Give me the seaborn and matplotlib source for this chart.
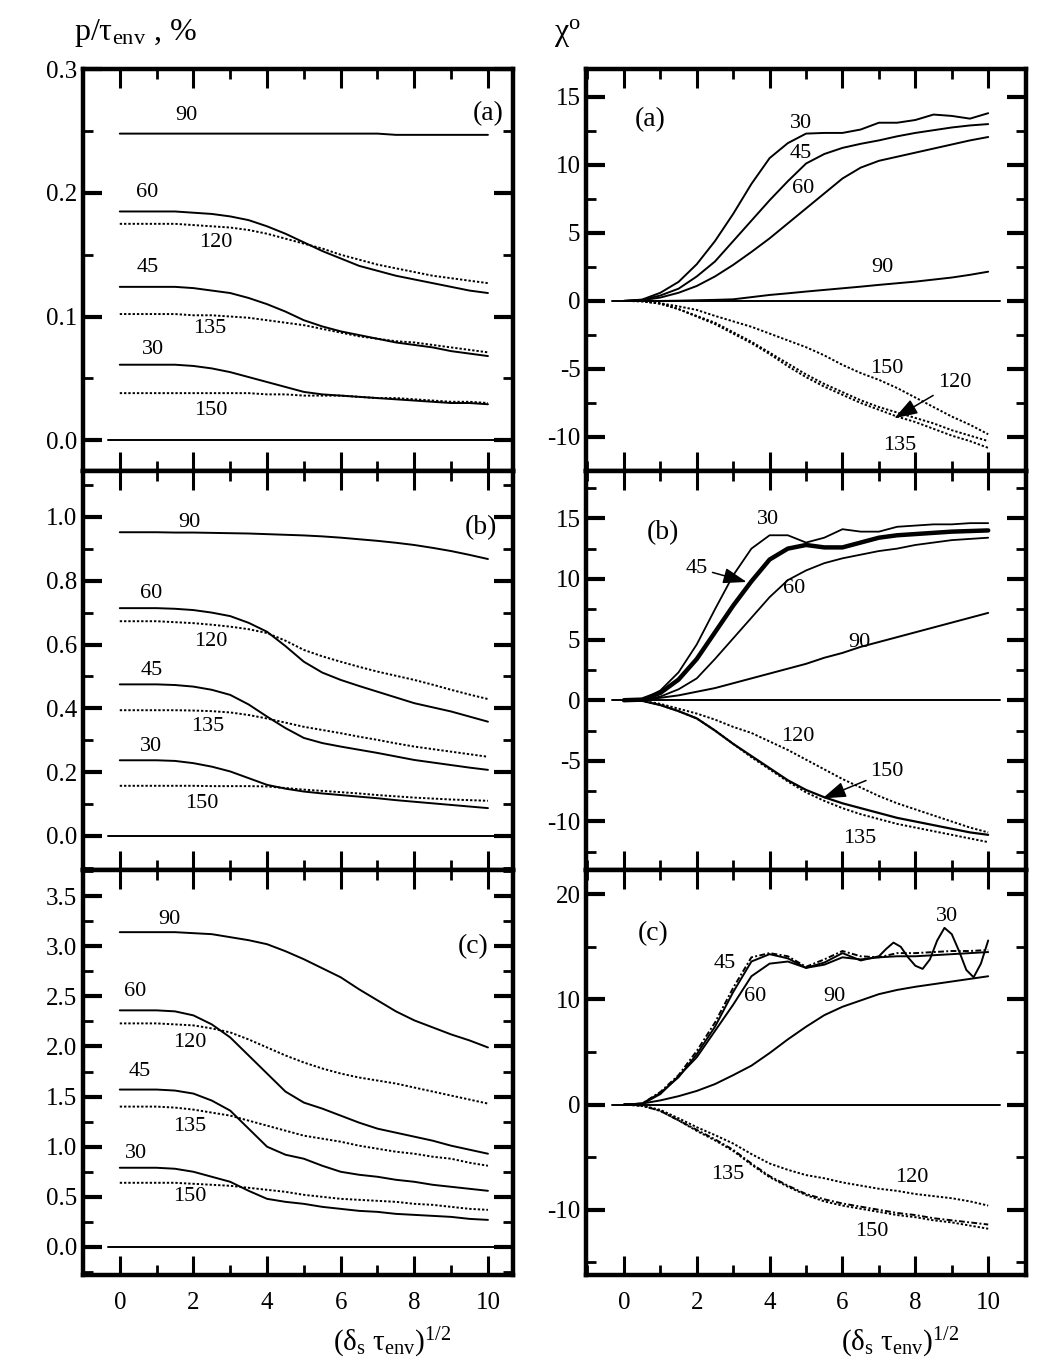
import matplotlib
matplotlib.use("Agg")
import matplotlib.pyplot as plt
from matplotlib.ticker import MultipleLocator
import seaborn as sns

# common abscissa, (delta_s tau_env)^1/2
X = [0, 0.5, 1, 1.5, 2, 2.5, 3, 3.5, 4, 4.5, 5, 5.5, 6, 6.5, 7, 7.5, 8, 8.5, 9, 9.5, 10]
X30C = [0, 0.5, 1, 1.5, 2, 2.5, 3, 3.5, 4, 4.5, 5, 5.5, 6, 6.5, 7, 7.2, 7.4, 7.6, 7.8,
        8.0, 8.2, 8.4, 8.6, 8.8, 9.0, 9.2, 9.4, 9.6, 9.8, 10]

# ---- left column: p / tau_env, %
pa_90 = [.248, .248, .248, .248, .248, .248, .248, .248, .248, .248, .248, .248, .248,
         .248, .248, .247, .247, .247, .247, .247, .247]
pa_60 = [.185, .185, .185, .185, .184, .183, .181, .178, .173, .167, .160, .153, .147,
         .141, .137, .133, .130, .127, .124, .121, .119]
pa_120 = [.175, .175, .175, .175, .174, .173, .172, .170, .167, .163, .159, .155, .150,
          .146, .142, .139, .136, .133, .131, .129, .127]
pa_45 = [.124, .124, .124, .124, .123, .121, .119, .115, .110, .104, .097, .092, .088,
         .085, .082, .079, .077, .075, .072, .070, .068]
pa_135 = [.102, .102, .102, .102, .101, .101, .100, .099, .097, .095, .093, .090, .087,
          .084, .082, .080, .079, .077, .075, .073, .071]
pa_30 = [.061, .061, .061, .061, .060, .058, .055, .051, .047, .043, .039, .037, .036,
         .035, .034, .033, .032, .031, .030, .030, .029]
pa_150 = [.038, .038, .038, .038, .038, .038, .038, .038, .037, .037, .036, .036, .036,
          .035, .034, .034, .033, .032, .031, .031, .030]

pb_90 = [.952, .952, .952, .951, .951, .950, .949, .948, .946, .944, .942, .939, .935,
         .930, .925, .919, .912, .903, .893, .881, .868]
pb_60 = [.714, .714, .714, .712, .708, .700, .689, .668, .640, .595, .546, .512, .489,
         .470, .452, .434, .416, .403, .390, .374, .358]
pb_120 = [.673, .673, .673, .670, .667, .662, .656, .648, .636, .612, .583, .563, .546,
          .530, .515, .502, .489, .474, .458, .443, .429]
pb_45 = [.475, .475, .475, .473, .468, .458, .442, .412, .374, .338, .307, .291, .280,
         .270, .260, .249, .238, .230, .222, .214, .207]
pb_135 = [.394, .394, .394, .394, .393, .391, .387, .379, .368, .355, .342, .332, .322,
          .311, .301, .290, .280, .272, .264, .256, .248]
pb_30 = [.237, .237, .237, .235, .228, .217, .202, .181, .160, .148, .139, .133, .128,
         .123, .118, .112, .107, .102, .097, .092, .087]
pb_150 = [.157, .157, .157, .157, .157, .156, .156, .156, .155, .150, .145, .141, .137,
          .133, .128, .124, .120, .117, .114, .112, .110]

pc_90 = [3.14, 3.14, 3.14, 3.14, 3.13, 3.12, 3.09, 3.06, 3.02, 2.95, 2.87, 2.78, 2.69,
         2.57, 2.46, 2.35, 2.26, 2.19, 2.12, 2.06, 1.99]
pc_60 = [2.36, 2.36, 2.36, 2.35, 2.31, 2.22, 2.09, 1.91, 1.73, 1.55, 1.44, 1.38, 1.31,
         1.24, 1.18, 1.14, 1.10, 1.06, 1.01, 0.97, 0.93]
pc_120 = [2.23, 2.23, 2.23, 2.22, 2.21, 2.18, 2.14, 2.07, 1.99, 1.91, 1.84, 1.78, 1.73,
          1.69, 1.66, 1.63, 1.59, 1.55, 1.51, 1.47, 1.43]
pc_45 = [1.57, 1.57, 1.57, 1.56, 1.53, 1.46, 1.36, 1.18, 1.00, 0.92, 0.88, 0.81, 0.75,
         0.72, 0.70, 0.67, 0.65, 0.62, 0.60, 0.58, 0.56]
pc_135 = [1.40, 1.40, 1.40, 1.39, 1.37, 1.34, 1.31, 1.26, 1.21, 1.16, 1.11, 1.08, 1.05,
          1.01, 0.98, 0.95, 0.93, 0.90, 0.88, 0.84, 0.81]
pc_30 = [0.79, 0.79, 0.79, 0.78, 0.75, 0.70, 0.65, 0.56, 0.48, 0.45, 0.43, 0.40, 0.38,
         0.36, 0.35, 0.33, 0.32, 0.31, 0.30, 0.28, 0.27]
pc_150 = [0.64, 0.64, 0.64, 0.64, 0.63, 0.62, 0.61, 0.59, 0.57, 0.55, 0.52, 0.50, 0.48,
          0.47, 0.46, 0.45, 0.43, 0.42, 0.40, 0.38, 0.37]

# ---- right column: chi, degrees
ca_30 = [0, 0.1, 0.6, 1.4, 2.7, 4.4, 6.4, 8.6, 10.5, 11.6, 12.3, 12.35, 12.35, 12.6,
         13.1, 13.1, 13.3, 13.7, 13.6, 13.4, 13.8]
ca_45 = [0, 0.08, 0.4, 0.9, 1.8, 2.9, 4.4, 5.9, 7.4, 8.8, 10.1, 10.8, 11.25, 11.55,
         11.8, 12.1, 12.35, 12.55, 12.75, 12.9, 13.0]
ca_60 = [0, 0.05, 0.25, 0.6, 1.1, 1.8, 2.65, 3.6, 4.6, 5.7, 6.8, 7.9, 9.0, 9.8, 10.3,
         10.6, 10.9, 11.2, 11.5, 11.8, 12.05]
ca_90 = [0, 0, 0, 0.02, 0.05, 0.08, 0.12, 0.28, 0.44, 0.56, 0.69, 0.81, 0.93, 1.05,
         1.18, 1.30, 1.42, 1.57, 1.72, 1.92, 2.15]
ca_150 = [0, -0.02, -0.17, -0.4, -0.66, -1.1, -1.5, -1.9, -2.4, -2.9, -3.4, -4.0, -4.7,
          -5.3, -5.8, -6.4, -7.1, -7.8, -8.5, -9.1, -9.8]
ca_120 = [0, -0.02, -0.2, -0.6, -1.1, -1.6, -2.3, -3.0, -3.8, -4.6, -5.4, -6.1, -6.7,
          -7.3, -7.8, -8.2, -8.6, -9.0, -9.5, -9.9, -10.3]
ca_135 = [0, -0.02, -0.2, -0.6, -1.15, -1.7, -2.4, -3.1, -3.9, -4.8, -5.6, -6.3, -6.9,
          -7.5, -8.0, -8.5, -8.9, -9.4, -9.9, -10.3, -10.8]

cb_30 = [0, 0.05, 0.8, 2.3, 4.6, 7.5, 10.3, 12.5, 13.6, 13.6, 13.0, 13.4, 14.1, 13.9,
         13.9, 14.3, 14.4, 14.5, 14.5, 14.6, 14.6]
cb_45 = [0, 0.05, 0.6, 1.7, 3.4, 5.6, 7.8, 9.8, 11.6, 12.5, 12.8, 12.6, 12.6, 13.0,
         13.4, 13.6, 13.7, 13.8, 13.9, 13.95, 14.0]
cb_60 = [0, 0.03, 0.3, 0.9, 1.8, 3.4, 5.1, 6.8, 8.5, 9.9, 10.7, 11.3, 11.7, 12.0, 12.3,
         12.5, 12.8, 13.0, 13.2, 13.3, 13.4]
cb_90 = [0, 0.02, 0.2, 0.4, 0.7, 1.0, 1.4, 1.8, 2.2, 2.6, 3.0, 3.5, 3.9, 4.4, 4.8, 5.2,
         5.6, 6.0, 6.4, 6.8, 7.2]
cb_120 = [0, -0.05, -0.3, -0.7, -1.1, -1.6, -2.2, -2.7, -3.4, -4.1, -4.9, -5.7, -6.5,
          -7.2, -7.9, -8.5, -9.0, -9.5, -10.0, -10.5, -10.9]
cb_150 = [0, -0.05, -0.4, -0.9, -1.5, -2.5, -3.6, -4.6, -5.6, -6.6, -7.4, -8.0, -8.5,
          -8.9, -9.3, -9.7, -10.0, -10.3, -10.6, -10.9, -11.1]
cb_135 = [0, -0.05, -0.4, -0.9, -1.5, -2.5, -3.6, -4.7, -5.7, -6.7, -7.6, -8.3, -8.9,
          -9.4, -9.8, -10.2, -10.5, -10.8, -11.1, -11.4, -11.7]

cc_30 = [0, 0.1, 1.1, 2.6, 4.8, 7.4, 10.7, 13.6, 14.3, 13.9, 13.0, 13.5, 14.4, 13.7,
         14.1, 14.8, 15.4, 15.0, 14.0, 13.2, 12.9, 13.8, 15.6, 16.8, 16.2, 14.6, 12.8,
         12.1, 13.4, 15.6]
cc_45 = [0, 0.1, 1.2, 2.8, 5.1, 7.8, 11.1, 14.0, 14.4, 14.1, 13.1, 13.8, 14.6, 14.1,
         14.0, 14.4, 14.4, 14.5, 14.6, 14.6, 14.7]
cc_60 = [0, 0.05, 1.0, 2.7, 4.5, 7.0, 9.5, 12.2, 13.4, 13.6, 13.0, 13.3, 14.0, 13.8,
         14.0, 14.1, 14.1, 14.2, 14.3, 14.4, 14.5]
cc_90 = [0, 0.1, 0.4, 0.8, 1.3, 1.95, 2.8, 3.7, 4.9, 6.2, 7.4, 8.5, 9.3, 9.9, 10.5,
         10.9, 11.2, 11.45, 11.7, 11.95, 12.2]
cc_120 = [0, -0.1, -0.5, -1.3, -2.15, -2.9, -3.7, -4.7, -5.6, -6.2, -6.7, -7.0, -7.4,
          -7.7, -8.0, -8.2, -8.5, -8.7, -8.9, -9.2, -9.6]
cc_135 = [0, -0.1, -0.6, -1.5, -2.5, -3.4, -4.4, -5.7, -6.9, -7.8, -8.6, -9.2, -9.6,
          -9.9, -10.2, -10.5, -10.7, -11.0, -11.2, -11.5, -11.8]
cc_150 = [0, -0.1, -0.6, -1.5, -2.4, -3.3, -4.3, -5.6, -6.8, -7.7, -8.5, -9.0, -9.4,
          -9.7, -10.0, -10.3, -10.5, -10.8, -11.0, -11.2, -11.4]

ZERO_SPAN = (-0.33, 10.33)

sns.set_theme(style="ticks")
plt.rcParams["font.family"] = ["Liberation Serif", "DejaVu Serif"]
plt.rcParams["mathtext.fontset"] = "custom"
plt.rcParams["mathtext.rm"] = "Liberation Serif"
plt.rcParams["mathtext.it"] = "Liberation Serif:italic"
plt.rcParams["axes.unicode_minus"] = False
for key in ["text.color", "axes.labelcolor", "xtick.color", "ytick.color", "axes.edgecolor"]:
    plt.rcParams[key] = "black"

SOLID = "-"
DOT = (0, (1.2, 1.0))
DASHDOT = (0, (3.0, 1.2, 1.0, 1.2))

LEFT = (0.0787, 0.408)
RIGHT = (0.556, 0.4175)
ROWS = [(0.6552, 0.9495), (0.3631, 0.6552), (0.0666, 0.3631)]

panels = [
    dict(col=LEFT, row=0, xlim=(-1.0, 10.68), ylim=(-0.025, 0.3003), ymaj=0.1, ymin=0.05,
         curves=[(X, pa_90, SOLID, 1.4), (X, pa_60, SOLID, 1.4), (X, pa_120, DOT, 1.4),
                 (X, pa_45, SOLID, 1.4), (X, pa_135, DOT, 1.4), (X, pa_30, SOLID, 1.4),
                 (X, pa_150, DOT, 1.4)],
         labels=[("90", 1.8, 0.263), ("60", 0.73, 0.2), ("120", 2.6, 0.16), ("45", 0.75, 0.14),
                 ("135", 2.45, 0.0905), ("30", 0.9, 0.073), ("150", 2.47, 0.024)],
         tag=("(a)", 10.0, 0.264), arrows=[]),
    dict(col=LEFT, row=1, xlim=(-1.0, 10.68), ylim=(-0.107, 1.144), ymaj=0.2, ymin=0.1,
         curves=[(X, pb_90, SOLID, 1.4), (X, pb_60, SOLID, 1.4), (X, pb_120, DOT, 1.4),
                 (X, pb_45, SOLID, 1.4), (X, pb_135, DOT, 1.4), (X, pb_30, SOLID, 1.4),
                 (X, pb_150, DOT, 1.4)],
         labels=[("90", 1.9, 0.984), ("60", 0.84, 0.76), ("120", 2.47, 0.608),
                 ("45", 0.86, 0.517), ("135", 2.4, 0.343), ("30", 0.84, 0.279),
                 ("150", 2.22, 0.103)],
         tag=("(b)", 9.8, 0.966), arrows=[]),
    dict(col=LEFT, row=2, xlim=(-1.0, 10.68), ylim=(-0.28, 3.76), ymaj=0.5, ymin=0.25,
         curves=[(X, pc_90, SOLID, 1.4), (X, pc_60, SOLID, 1.4), (X, pc_120, DOT, 1.4),
                 (X, pc_45, SOLID, 1.4), (X, pc_135, DOT, 1.4), (X, pc_30, SOLID, 1.4),
                 (X, pc_150, DOT, 1.4)],
         labels=[("90", 1.36, 3.27), ("60", 0.43, 2.55), ("120", 1.9, 2.04), ("45", 0.54, 1.75),
                 ("135", 1.9, 1.2), ("30", 0.43, 0.93), ("150", 1.9, 0.5)],
         tag=("(c)", 9.6, 3.0), arrows=[]),
    dict(col=RIGHT, row=0, xlim=(-1.04, 11.04), ylim=(-12.5, 17.05), ymaj=5, ymin=2.5,
         curves=[(X, ca_30, SOLID, 1.4), (X, ca_45, SOLID, 1.4), (X, ca_60, SOLID, 1.4),
                 (X, ca_90, SOLID, 1.4), (X, ca_150, DOT, 1.4), (X, ca_120, DOT, 1.4),
                 (X, ca_135, DOT, 1.4)],
         labels=[("30", 4.86, 13.06), ("45", 4.85, 10.86), ("60", 4.93, 8.28),
                 ("90", 7.1, 2.43), ("150", 7.23, -4.93), ("135", 7.56, -10.6)],
         tag=("(a)", 0.71, 13.3),
         arrows=[("120", 9.07, -6.03, 7.42, -8.63)]),
    dict(col=RIGHT, row=1, xlim=(-1.04, 11.04), ylim=(-14.0, 18.9), ymaj=5, ymin=2.5,
         curves=[(X, cb_30, SOLID, 1.3), (X, cb_45, SOLID, 3.2), (X, cb_60, SOLID, 1.3),
                 (X, cb_90, SOLID, 1.4), (X, cb_120, DOT, 1.4), (X, cb_150, SOLID, 1.6),
                 (X, cb_135, DOT, 1.4)],
         labels=[("30", 3.95, 14.9), ("60", 4.66, 9.2), ("90", 6.47, 4.8),
                 ("120", 4.77, -3.0), ("135", 6.47, -11.4)],
         tag=("(b)", 1.07, 13.8),
         arrows=[("45", 2.0, 10.9, 3.37, 9.75), ("150", 7.23, -5.9, 5.45, -8.1)]),
    dict(col=RIGHT, row=2, xlim=(-1.04, 11.04), ylim=(-16.2, 22.3), ymaj=10, ymin=5,
         curves=[(X30C, cc_30, SOLID, 1.4), (X, cc_45, DASHDOT, 1.4), (X, cc_60, SOLID, 1.4),
                 (X, cc_90, SOLID, 1.4), (X, cc_120, DOT, 1.4), (X, cc_135, DOT, 1.4),
                 (X, cc_150, DASHDOT, 1.4)],
         labels=[("30", 8.88, 17.9), ("45", 2.77, 13.4), ("60", 3.6, 10.3), ("90", 5.78, 10.3),
                 ("135", 2.85, -6.6), ("120", 7.9, -6.9), ("150", 6.8, -12.1)],
         tag=("(c)", 0.8, 16.3), arrows=[]),
]

fig = plt.figure(figsize=(10.54, 13.66), dpi=100)
fig.patch.set_facecolor("white")

for p in panels:
    bottom, top = ROWS[p["row"]]
    ax = fig.add_axes([p["col"][0], bottom, p["col"][1], top - bottom])
    ax.set_facecolor("white")

    x0, x1 = p["xlim"]
    ax.axhline(0, xmin=(ZERO_SPAN[0] - x0) / (x1 - x0), xmax=(ZERO_SPAN[1] - x0) / (x1 - x0),
               color="black", lw=1.4, zorder=1)
    for xs, ys, ls, lw in p["curves"]:
        sns.lineplot(x=xs, y=ys, ax=ax, color="black", lw=lw, linestyle=ls,
                     estimator=None, sort=False, legend=False, zorder=2)

    for txt, tx, ty in p["labels"]:
        ax.text(tx, ty, txt, ha="center", va="center", fontsize=16)
    ax.text(p["tag"][1], p["tag"][2], p["tag"][0], ha="center", va="center", fontsize=20)
    for txt, tx, ty, hx, hy in p["arrows"]:
        ax.annotate(txt, xy=(hx, hy), xytext=(tx, ty), ha="center", va="center", fontsize=16,
                    arrowprops=dict(arrowstyle="-|>,head_length=0.9,head_width=0.3",
                                    color="black", lw=1.1, shrinkA=1, shrinkB=0))

    ax.set_xlim(p["xlim"])
    ax.set_ylim(p["ylim"])
    ax.xaxis.set_major_locator(MultipleLocator(2))
    ax.xaxis.set_minor_locator(MultipleLocator(1))
    ax.yaxis.set_major_locator(MultipleLocator(p["ymaj"]))
    ax.yaxis.set_minor_locator(MultipleLocator(p["ymin"]))
    ax.tick_params(which="both", direction="in", top=True, right=True, labelsize=18)
    ax.tick_params(which="major", length=14, width=2.2)
    ax.tick_params(which="minor", length=7, width=2.0)
    ax.tick_params(axis="y", which="major", width=3.0, pad=4)
    ax.tick_params(axis="x", pad=12)
    for s in ax.spines.values():
        s.set_linewidth(3.2)
    ax.set_xlabel("")
    ax.set_ylabel("")
    if p["row"] != 2:
        ax.tick_params(labelbottom=False)

fig.text(0.128, 0.976, r"p/τ$_{\mathrm{env}}$ , %", ha="center", va="center", fontsize=23)
fig.text(0.538, 0.976, r"χ$^{\mathrm{o}}$", ha="center", va="center", fontsize=23)
fig.text(0.372, 0.017, r"(δ$_{\mathrm{s}}$ τ$_{\mathrm{env}}$)$^{1/2}$", ha="center",
         va="center", fontsize=21)
fig.text(0.854, 0.017, r"(δ$_{\mathrm{s}}$ τ$_{\mathrm{env}}$)$^{1/2}$", ha="center",
         va="center", fontsize=21)

fig.savefig("out.png", dpi=100, facecolor="white")
